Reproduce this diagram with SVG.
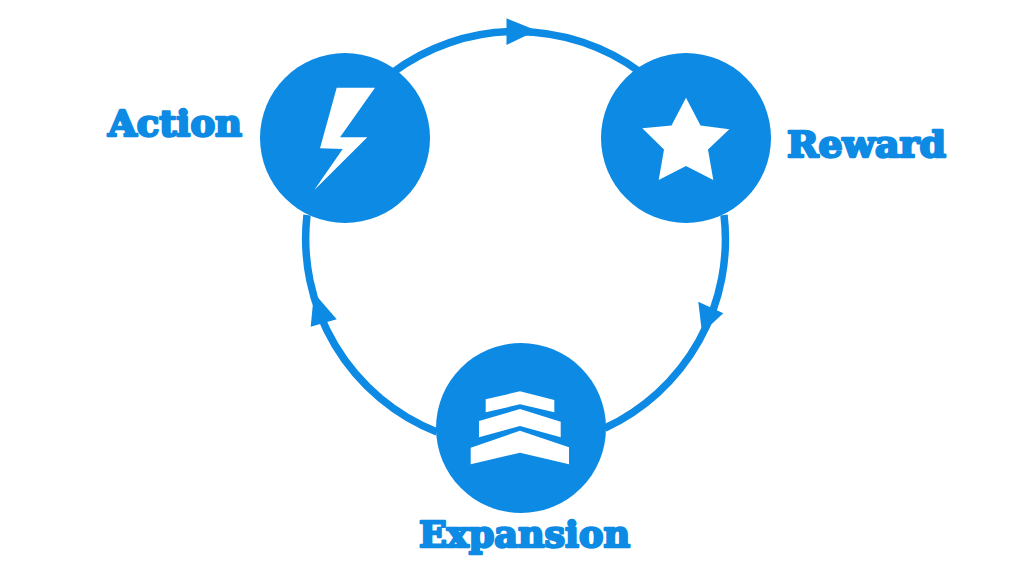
<svg xmlns="http://www.w3.org/2000/svg" width="1024" height="576" viewBox="0 0 1024 576">
<style>
.link{fill:none;stroke:#0d8ae3;stroke-width:7.5}
.head{fill:#0d8ae3}
.disc{fill:#0d8ae3}
.icon{fill:#fff}
.label{fill:#0d8ae3;stroke:#0d8ae3;stroke-width:2.4;stroke-linejoin:round;font-family:"DejaVu Serif","Liberation Serif",serif;font-weight:700;font-size:35px}
</style>
<rect width="1024" height="576" fill="#fff"/>
<g id="connectors">
<path class="link" d="M392 73A208 208 0 0 1 640 72"/>
<polygon class="head" points="506.500,18.300 536.700,30.500 506.500,45"/>
<path class="link" d="M724 215A208 208 0 0 1 605 428"/>
<polygon class="head" points="698.300,301.700 723.300,313.300 702,333"/>
<path class="link" d="M437 432A208 208 0 0 1 307 215"/>
<polygon class="head" points="310.700,326.700 336.700,319.300 314,293"/>
</g>
<g id="action">
<circle class="disc" cx="345" cy="138" r="85"/>
<polygon class="icon" points="336.700,87.700 375,87.700 340,137.300 367.300,137.300 314.300,190 342.700,149 320,148.300"/>
<text class="label" x="108" y="136" textLength="134" lengthAdjust="spacingAndGlyphs">Action</text>
</g>
<g id="reward">
<circle class="disc" cx="686" cy="138" r="85"/>
<polygon class="icon" points="686,97.700 700.500,125.500 729.300,129.300 708,149.500 713.300,180 686,166 658.700,180 664,149.500 642.300,128.300 671.500,125.500"/>
<text class="label" x="787" y="157" textLength="159" lengthAdjust="spacingAndGlyphs">Reward</text>
</g>
<g id="expansion">
<circle class="disc" cx="521" cy="428" r="85"/>
<polygon class="icon" points="485.700,399.300 520,391.300 554.300,400 554.300,412.300 520,404.300 485.700,412.300"/>
<polygon class="icon" points="479,421 520,409 560.700,421.700 560.700,437.300 520,426 479,437.300"/>
<polygon class="icon" points="470.700,447.700 520,430.700 569,447.300 569,464.300 520,452.700 470.700,464.300"/>
<text class="label" x="419" y="547" textLength="211" lengthAdjust="spacingAndGlyphs">Expansion</text>
</g>
</svg>
